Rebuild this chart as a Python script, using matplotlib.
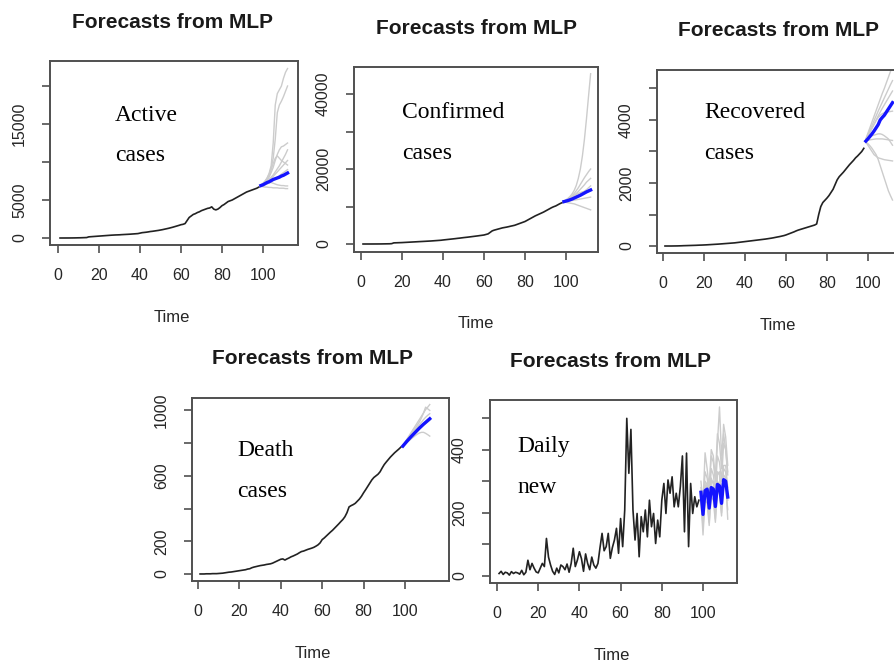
import matplotlib
matplotlib.use("Agg")
import matplotlib.pyplot as plt
import numpy as np

# ---------------- data ----------------
t_hist = list(range(1, 99))
t_fc = list(range(99, 113))

active_hist = [0, 0, 1, 2, 3, 5, 8, 12, 18, 25, 30, 40, 50, 60,
               150, 170, 190, 210, 230, 250,
               270, 290, 310, 330, 350, 370, 385, 400, 410, 420,
               440, 455, 470, 485, 500, 520, 540, 560, 580, 640,
               700, 730, 760, 800, 850, 880, 920, 960, 1000, 1050,
               1100, 1160, 1220, 1280, 1350, 1420, 1500, 1580, 1660, 1750,
               1800, 1900, 2300, 2700, 2900, 3100, 3200, 3350, 3450, 3600,
               3700, 3800, 3900, 3950, 4100, 3800, 3700, 3800, 4000, 4250,
               4400, 4600, 4800, 4900, 5000, 5150, 5300, 5450, 5600, 5750,
               5900, 6050, 6150, 6250, 6350, 6450, 6550, 6700]
active_fc = [6900, 7000, 7150, 7300, 7400, 7550, 7700, 7800, 7900, 8000, 8150, 8250, 8400, 8550]
active_reps = [
    [7000, 7200, 7500, 7900, 8500, 9500, 12500, 17500, 19000, 19500, 20000, 21000, 21800, 22300],
    [6950, 7100, 7400, 7800, 8300, 9200, 10500, 13000, 16500, 17500, 18000, 18600, 19300, 20000],
    [6900, 7100, 7300, 7600, 8000, 8600, 9300, 10200, 11000, 11600, 12000, 12100, 12300, 12500],
    [6850, 7050, 7250, 7450, 7700, 8000, 8300, 8700, 9100, 9500, 10000, 10500, 11000, 11600],
    [6900, 7000, 7200, 7350, 7550, 7800, 8100, 8400, 8700, 9000, 9300, 9600, 9900, 10200],
    [6800, 6900, 7000, 7100, 7250, 7400, 7600, 7800, 8000, 8200, 8400, 8600, 8800, 9000],
    [6800, 6750, 6700, 6700, 6650, 6650, 6600, 6600, 6600, 6550, 6550, 6550, 6500, 6500],
    [6900, 7100, 7400, 7800, 8300, 9000, 9800, 10500, 10800, 10500, 10200, 10000, 9800, 9600],
    [6850, 6950, 7100, 7200, 7300, 7300, 7200, 7100, 7000, 6950, 6900, 6900, 6850, 6850],
]

confirmed_hist = [0, 0, 1, 2, 3, 5, 8, 10, 15, 20, 30, 40, 50, 60, 100,
                  300, 320, 340, 360, 380,
                  410, 440, 470, 500, 530, 560, 590, 620, 650, 680,
                  710, 740, 770, 800, 840, 880, 920, 960, 1000, 1070,
                  1130, 1190, 1250, 1310, 1370, 1430, 1500, 1560, 1630, 1700,
                  1760, 1820, 1890, 1960, 2030, 2100, 2170, 2250, 2320, 2400,
                  2550, 2700, 3100, 3500, 3700, 3850, 4000, 4150, 4300, 4400,
                  4500, 4620, 4750, 4870, 5000, 5200, 5400, 5600, 5800, 6000,
                  6300, 6600, 6900, 7200, 7500, 7750, 8000, 8250, 8500, 8800,
                  9100, 9400, 9700, 9950, 10150, 10450, 10750, 11000]
confirmed_fc = [11300, 11450, 11600, 11800, 12000, 12250, 12500, 12750, 13000, 13300, 13600, 13900, 14150, 14400]
confirmed_reps = [
    [11400, 11800, 12200, 12700, 13400, 14300, 15600, 17500, 20000, 23500, 28000, 33500, 39500, 45400],
    [11350, 11650, 12000, 12400, 12900, 13500, 14200, 15000, 15900, 16800, 17700, 18500, 19300, 20000],
    [11300, 11600, 11900, 12200, 12600, 13000, 13500, 14000, 14600, 15200, 15800, 16500, 17000, 17500],
    [11300, 11500, 11700, 11900, 12100, 12400, 12700, 13000, 13300, 13700, 14100, 14500, 15000, 15500],
    [11200, 11300, 11400, 11500, 11600, 11700, 11800, 11900, 12000, 12100, 12200, 12300, 12400, 12500],
    [11200, 11100, 11000, 10900, 10800, 10700, 10500, 10300, 10100, 9900, 9700, 9500, 9300, 9100],
    [11300, 11500, 11800, 12100, 12500, 12900, 13200, 13500, 13700, 13900, 14000, 14100, 14200, 14300],
]

recovered_hist = [0, 0, 0, 0, 1, 2, 3, 5, 7, 10,
                  12, 14, 16, 18, 20, 22, 25, 28, 30, 33,
                  36, 40, 44, 48, 52, 56, 60, 65, 70, 75,
                  80, 85, 90, 95, 100, 108, 116, 124, 132, 140,
                  148, 156, 164, 172, 180, 188, 196, 204, 212, 220,
                  230, 240, 250, 262, 275, 288, 300, 315, 330, 350,
                  375, 400, 425, 450, 480, 505, 525, 545, 565, 585,
                  605, 625, 645, 665, 700, 1000, 1250, 1380, 1450, 1520,
                  1600, 1700, 1800, 1950, 2100, 2200, 2270, 2340, 2420, 2500,
                  2580, 2650, 2720, 2800, 2860, 2930, 3000, 3100]
recovered_fc = [3330, 3400, 3480, 3560, 3650, 3750, 3850, 4000, 4080, 4150, 4250, 4350, 4450, 4550]
recovered_reps = [
    [3400, 3580, 3760, 3940, 4120, 4300, 4480, 4660, 4840, 5000, 5180, 5360, 5540, 5700],
    [3380, 3530, 3680, 3830, 3980, 4130, 4280, 4420, 4560, 4700, 4840, 4980, 5120, 5250],
    [3350, 3480, 3610, 3740, 3870, 4000, 4130, 4250, 4370, 4480, 4590, 4700, 4810, 4920],
    [3300, 3250, 3180, 3100, 3000, 2900, 2750, 2550, 2350, 2150, 1950, 1750, 1600, 1460],
    [3300, 3200, 3100, 3000, 2900, 2850, 2800, 2780, 2760, 2740, 2730, 2720, 2710, 2700],
    [3350, 3360, 3370, 3380, 3390, 3400, 3400, 3400, 3400, 3390, 3380, 3370, 3360, 3350],
    [3350, 3400, 3450, 3500, 3520, 3540, 3560, 3560, 3540, 3500, 3450, 3400, 3300, 3200],
    [3380, 3500, 3620, 3740, 3860, 3980, 4080, 4150, 4200, 4230, 4250, 4260, 4270, 4280],
]

death_hist = [0, 0, 0, 1, 1, 1, 2, 2, 2, 3,
              4, 5, 7, 9, 11, 12, 14, 16, 18, 20,
              22, 24, 26, 30, 32, 38, 42, 45, 48, 51,
              53, 55, 58, 60, 62, 66, 72, 78, 84, 90,
              92, 85, 92, 98, 105, 110, 116, 122, 130, 137,
              140, 145, 150, 154, 158, 163, 170, 178, 190, 210,
              220, 232, 244, 256, 267, 280, 293, 306, 320, 333,
              350, 375, 410, 418, 424, 432, 445, 458, 475, 496,
              515, 535, 555, 575, 590, 600, 610, 625, 648, 669,
              685, 700, 715, 728, 741, 752, 763, 775]
death_fc = [782, 797, 812, 826, 840, 853, 866, 879, 892, 904, 916, 927, 938, 949]
death_reps = [
    [785, 805, 825, 845, 865, 885, 905, 925, 945, 965, 985, 1005, 1020, 1036],
    [784, 802, 820, 838, 856, 874, 892, 910, 930, 955, 985, 1020, 1010, 1000],
    [783, 800, 816, 832, 848, 864, 880, 896, 912, 928, 944, 958, 970, 980],
    [781, 792, 804, 815, 826, 836, 846, 855, 862, 866, 866, 860, 852, 843],
    [782, 795, 808, 822, 836, 850, 864, 878, 890, 900, 910, 920, 930, 940],
]

daily_hist = [8, 15, 5, 12, 10, 3, 14, 8, 12, 10,
              6, 18, 4, 12, 50, 20, 40, 25, 13, 10,
              25, 40, 30, 119, 60, 35, 15, 5, 25, 10,
              35, 30, 20, 38, 12, 40, 88, 30, 50, 77,
              55, 15, 70, 40, 20, 60, 35, 25, 40, 90,
              135, 80, 93, 135, 56, 90, 114, 151, 72, 182,
              93, 209, 499, 325, 464, 209, 114, 198, 61, 188,
              140, 209, 124, 240, 156, 198, 103, 177, 124, 240,
              293, 198, 304, 262, 314, 219, 262, 219, 283, 380,
              140, 389, 93, 293, 198, 251, 219, 240]
daily_fc = [265, 195, 270, 275, 215, 280, 275, 220, 290, 285, 230, 305, 300, 250]
daily_reps = [
    [280, 220, 330, 310, 260, 380, 360, 300, 420, 535, 380, 450, 400, 320],
    [250, 180, 300, 290, 230, 340, 320, 270, 380, 360, 300, 420, 400, 330],
    [270, 150, 260, 250, 170, 280, 260, 180, 300, 290, 200, 320, 310, 180],
    [240, 130, 240, 230, 160, 250, 240, 170, 270, 260, 190, 290, 280, 210],
    [300, 230, 390, 340, 280, 400, 380, 310, 450, 420, 340, 480, 440, 350],
    [260, 200, 280, 290, 220, 300, 300, 240, 330, 320, 250, 350, 350, 280],
    [255, 170, 290, 270, 200, 310, 290, 210, 320, 330, 230, 340, 330, 240],
]

title_text = "Forecasts from MLP"
xlabel_text = "Time"
xtick_vals = [0, 20, 40, 60, 80, 100]

panels = [
    dict(hist=active_hist, fc=active_fc, reps=active_reps, label=("Active", "cases"),
         yticks=[0, 5000, 10000, 15000, 20000], ylabels=["0", "5000", "", "15000", ""]),
    dict(hist=confirmed_hist, fc=confirmed_fc, reps=confirmed_reps, label=("Confirmed", "cases"),
         yticks=[0, 10000, 20000, 30000, 40000], ylabels=["0", "", "20000", "", "40000"]),
    dict(hist=recovered_hist, fc=recovered_fc, reps=recovered_reps, label=("Recovered", "cases"),
         yticks=[0, 1000, 2000, 3000, 4000, 5000], ylabels=["0", "", "2000", "", "4000", ""]),
    dict(hist=death_hist, fc=death_fc, reps=death_reps, label=("Death", "cases"),
         yticks=[0, 200, 400, 600, 800, 1000], ylabels=["0", "200", "", "600", "", "1000"]),
    dict(hist=daily_hist, fc=daily_fc, reps=daily_reps, label=("Daily", "new"),
         yticks=[0, 100, 200, 300, 400, 500], ylabels=["0", "", "200", "", "400", ""]),
]

# ---------------- layout (pixels) ----------------
W, H = 894, 665
layout = [
    dict(box=(50, 61, 298, 245), xlim=(-3.9, 117.1), ylim=(-921, 23290),
         title=(172, 23), time=(172, 317), txt=(115, 121, 161)),
    dict(box=(354, 67, 598, 252), xlim=(-3.4, 115.6), ylim=(-2133, 47200),
         title=(476, 28), time=(476, 323), txt=(402, 118, 159)),
    dict(box=(657, 70, 905, 253), xlim=(-2.9, 118.1), ylim=(-222, 5587),
         title=(778, 30), time=(778, 325), txt=(704, 118, 159)),
    dict(box=(192, 398, 449, 581), xlim=(-2.9, 121.3), ylim=(-43, 1076),
         title=(313, 359), time=(313, 653), txt=(237, 456, 497)),
    dict(box=(490, 400, 737, 583), xlim=(-3.4, 116.5), ylim=(-22, 557),
         title=(611, 362), time=(612, 655), txt=(517, 452, 493)),
]

fig = plt.figure(figsize=(W / 100, H / 100), dpi=100)
fig.patch.set_facecolor("white")

sans = "Liberation Sans"
serif = "Liberation Serif"
axcol = "#505050"
txtcol = "#262626"

for p, L in zip(panels, layout):
    x0, y0, x1, y1 = L["box"]
    ax = fig.add_axes([x0 / W, 1 - y1 / H, (x1 - x0) / W, (y1 - y0) / H])
    for r in p["reps"]:
        ax.plot(t_fc, r, color="#cccccc", lw=1.0, zorder=1)
    ax.plot(t_hist, p["hist"], color="#222222", lw=1.2, zorder=2)
    ax.plot(t_fc, p["fc"], color="#1414ff", lw=2.4, zorder=3)
    ax.set_xlim(*L["xlim"])
    ax.set_ylim(*L["ylim"])
    ax.set_xticks(xtick_vals)
    ax.set_xticklabels([str(v) for v in xtick_vals], fontfamily=sans, fontsize=11.5, color=txtcol)
    ax.set_yticks(p["yticks"])
    ax.set_yticklabels(p["ylabels"], fontfamily=sans, fontsize=11.5, color=txtcol,
                       rotation=90, va="center")
    ax.tick_params(axis="both", direction="out", length=6, width=1.2, color=axcol, pad=10.5)
    for s in ax.spines.values():
        s.set_color(axcol)
        s.set_linewidth(1.4)
    tx, ty = L["title"]
    fig.text(tx / W, 1 - ty / H, title_text, ha="center", va="center",
             fontfamily=sans, fontweight="bold", fontsize=15, color="#1a1a1a")
    lx, ly = L["time"]
    fig.text(lx / W, 1 - ly / H, xlabel_text, ha="center", va="center",
             fontfamily=sans, fontsize=12, color=txtcol)
    ax_, b1, b2 = L["txt"]
    fig.text(ax_ / W, 1 - b1 / H, p["label"][0], ha="left", va="baseline",
             fontfamily=serif, fontsize=17, color="black")
    fig.text(ax_ / W, 1 - b2 / H, p["label"][1], ha="left", va="baseline",
             fontfamily=serif, fontsize=17, color="black")

fig.savefig("out.png", dpi=100, facecolor="white")
